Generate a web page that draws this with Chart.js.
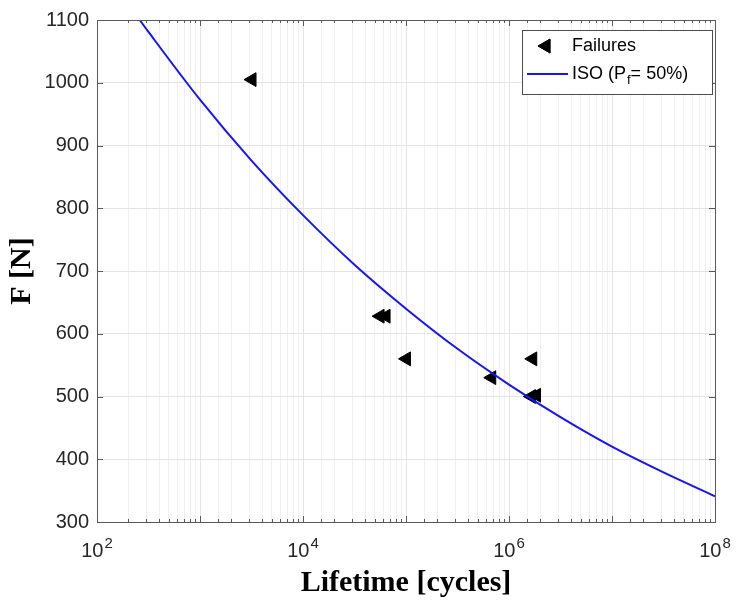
<!DOCTYPE html>
<html>
<head>
<meta charset="utf-8">
<script src="https://cdn.jsdelivr.net/npm/chart.js@4.4.1/dist/chart.umd.min.js"></script>
<style>
	html, body { margin: 0; padding: 0; background: #fff; }
</style>
</head>
<body>
<canvas id="lifeChart" width="745" height="608"></canvas>
<script>
/* Failure points */
var failureCycles = [3200, 56000, 64000, 101000, 680000, 1700000, 1650000, 1850000];
var failureForce = [1005, 628, 628, 560, 530, 560, 500, 502];

/* ISO curve (Pf = 50%) */
var isoCycles = [260, 316, 1000, 3162, 10000, 31623, 100000, 316228, 1000000, 3162278, 10000000, 31622777, 100000000];
var isoForce = [1100, 1081, 973, 876, 789, 710, 640, 576, 519, 467, 420, 379, 341];

/* Axis limits and tick labels */
var xMin = 100;
var xMax = 100000000;
var yMin = 300;
var yMax = 1100;
var yStep = 100;
var xLabelValues = [100, 10000, 1000000, 100000000];
var xLabelExponents = ["2", "4", "6", "8"];

var failurePoints = [];
for (var i = 0; i < failureCycles.length; i++) {
	failurePoints.push({ x: failureCycles[i], y: failureForce[i] });
}
var isoPoints = [];
for (var i = 0; i < isoCycles.length; i++) {
	isoPoints.push({ x: isoCycles[i], y: isoForce[i] });
}

const majorGrid = "#e4e4e4";
const minorGrid = "#f0f0f0";
const axisColor = "#5a5a5a";
const labelColor = "#262626";

function isDecade(v) {
	var l = Math.log10(v);
	return Math.abs(l - Math.round(l)) < 1e-6;
}

/* frame, inward ticks, x labels with exponents and the legend */
const matlabAxes = {
	id: "matlabAxes",
	afterDatasetsDraw(chart) {
		const ctx = chart.ctx;
		const a = chart.chartArea;
		const xs = chart.scales.x;
		const ys = chart.scales.y;
		ctx.save();
		ctx.strokeStyle = axisColor;
		ctx.lineWidth = 1;
		ctx.strokeRect(Math.round(a.left) + 0.5, Math.round(a.top) + 0.5, Math.round(a.right - a.left), Math.round(a.bottom - a.top));

		ctx.beginPath();
		xs.ticks.forEach(function (t) {
			var px = Math.round(xs.getPixelForValue(t.value)) + 0.5;
			var len = isDecade(t.value) ? 6 : 3;
			ctx.moveTo(px, a.bottom);
			ctx.lineTo(px, a.bottom - len);
			ctx.moveTo(px, a.top);
			ctx.lineTo(px, a.top + len);
		});
		ys.ticks.forEach(function (t) {
			var py = Math.round(ys.getPixelForValue(t.value)) + 0.5;
			ctx.moveTo(a.left, py);
			ctx.lineTo(a.left + 6, py);
			ctx.moveTo(a.right, py);
			ctx.lineTo(a.right - 6, py);
		});
		ctx.stroke();

		ctx.fillStyle = labelColor;
		ctx.textAlign = "left";
		ctx.textBaseline = "alphabetic";
		for (var i = 0; i < xLabelValues.length; i++) {
			var px = xs.getPixelForValue(xLabelValues[i]);
			ctx.font = '20px "Liberation Sans"';
			var w1 = ctx.measureText("10").width;
			ctx.font = '15px "Liberation Sans"';
			var w2 = ctx.measureText(xLabelExponents[i]).width;
			var start = px - (w1 + w2 + 1) / 2;
			ctx.font = '20px "Liberation Sans"';
			ctx.fillText("10", start, a.bottom + 35);
			ctx.font = '15px "Liberation Sans"';
			ctx.fillText(xLabelExponents[i], start + w1 + 1, a.bottom + 26);
		}

		/* legend */
		var lx = a.right - 193;
		var ly = a.top + 10;
		ctx.fillStyle = "#fff";
		ctx.fillRect(lx, ly, 190, 64);
		ctx.strokeStyle = "#4d4d4d";
		ctx.strokeRect(lx + 0.5, ly + 0.5, 190, 64);

		var failSet = chart.data.datasets[0];
		var isoSet = chart.data.datasets[1];
		Chart.helpers.drawPoint(ctx, {
			pointStyle: "triangle",
			radius: 8,
			rotation: -90,
			borderWidth: 1
		}, lx + 24, ly + 16);
		ctx.fillStyle = failSet.backgroundColor;
		ctx.strokeStyle = failSet.borderColor;
		ctx.fill();
		ctx.stroke();

		ctx.strokeStyle = isoSet.borderColor;
		ctx.lineWidth = 2;
		ctx.beginPath();
		ctx.moveTo(lx + 5, ly + 44);
		ctx.lineTo(lx + 46, ly + 44);
		ctx.stroke();

		ctx.fillStyle = "#000";
		ctx.textBaseline = "middle";
		ctx.font = '18px "Liberation Sans"';
		ctx.fillText(failSet.label, lx + 50, ly + 16);
		var part1 = "ISO (P";
		var part2 = "f";
		var part3 = "= 50%)";
		ctx.fillText(part1, lx + 50, ly + 44);
		var w = ctx.measureText(part1).width;
		ctx.font = '13px "Liberation Sans"';
		ctx.fillText(part2, lx + 50 + w + 1, ly + 50);
		var w2 = ctx.measureText(part2).width;
		ctx.font = '18px "Liberation Sans"';
		ctx.fillText(part3, lx + 50 + w + w2 + 1, ly + 44);
		ctx.restore();
	}
};

window.addEventListener("DOMContentLoaded", function () {
	const ctx = document.getElementById("lifeChart").getContext("2d");
	const data = {
		datasets: [
			{
				label: "Failures",
				data: failurePoints,
				showLine: false,
				pointStyle: "triangle",
				rotation: -90,
				pointRadius: 8,
				pointHoverRadius: 8,
				backgroundColor: "#000",
				borderColor: "#000",
				borderWidth: 1,
				order: 1
			},
			{
				label: "ISO (Pf= 50%)",
				data: isoPoints,
				showLine: true,
				borderColor: "#1414ff",
				backgroundColor: "#1414ff",
				borderWidth: 2,
				pointRadius: 0,
				cubicInterpolationMode: "monotone",
				order: 0
			}
		]
	};
	const options = {
		responsive: false,
		animation: false,
		devicePixelRatio: 1,
		layout: { padding: { left: 0, top: 19, right: 30, bottom: 0 } },
		plugins: {
			legend: { display: false },
			tooltip: { enabled: false }
		},
		scales: {
			x: {
				type: "logarithmic",
				min: xMin,
				max: xMax,
				afterFit: function (s) { s.height = 86; },
				border: { display: false },
				grid: {
					drawTicks: false,
					color: function (c) {
						return c.tick && isDecade(c.tick.value) ? majorGrid : minorGrid;
					}
				},
				ticks: { display: false },
				title: {
					display: true,
					text: "Lifetime [cycles]",
					color: "#000",
					font: { family: '"Liberation Serif"', size: 30, weight: "bold" },
					padding: { top: 0, bottom: 7 }
				}
			},
			y: {
				type: "linear",
				min: yMin,
				max: yMax,
				afterFit: function (s) { s.width = 97; },
				border: { display: false },
				grid: { drawTicks: false, color: majorGrid },
				ticks: {
					stepSize: yStep,
					padding: 8,
					color: labelColor,
					font: { family: '"Liberation Sans"', size: 20 },
					callback: function (v) { return String(v); }
				},
				title: {
					display: true,
					text: "F [N]",
					color: "#000",
					font: { family: '"Liberation Serif"', size: 30, weight: "bold" },
					padding: { top: 4, bottom: 0 }
				}
			}
		}
	};
	new Chart(ctx, {
		type: "scatter",
		data: data,
		options: options,
		plugins: [matlabAxes]
	});
}, false);
</script>
</body>
</html>
